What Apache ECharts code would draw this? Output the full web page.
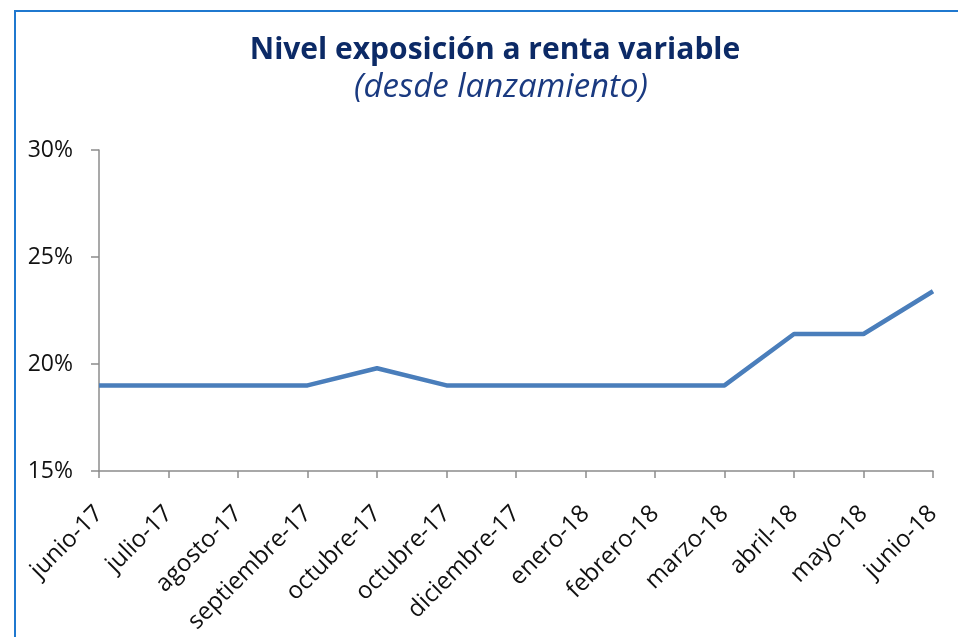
<!DOCTYPE html>
<html lang="es">
<head>
    <meta charset="UTF-8">
    <title>Nivel exposición a renta variable</title>
    <script src="https://cdn.jsdelivr.net/npm/echarts@6/dist/echarts.min.js"></script>
    <style>
        html, body { margin: 0; padding: 0; background: #fff; }
        #chart { width: 958px; height: 637px; }
    </style>
</head>
<body>
    <div id="chart"></div>
    <script>
        // meses (el original repite octubre-17)
        var meses = ['junio-17', 'julio-17', 'agosto-17', 'septiembre-17', 'octubre-17', 'octubre-17',
            'diciembre-17', 'enero-18', 'febrero-18', 'marzo-18', 'abril-18', 'mayo-18', 'junio-18']
        // nivel de exposición en %
        var exposicion = [19.0, 19.0, 19.0, 19.0, 19.8, 19.0, 19.0, 19.0, 19.0, 19.0, 21.4, 21.4, 23.4]
        var ejeY = { min: 15, max: 30, interval: 5 }

        var fuente = 'Open Sans'
        var chart = echarts.init(document.getElementById('chart'))
        var option = {
            animation: false,
            title: [{
                text: 'Nivel exposición a renta variable',
                left: 490, top: 30, textAlign: 'center',
                textStyle: { fontFamily: fuente, fontWeight: 'bold', fontSize: 30, color: '#0c2a66' }
            }, {
                text: '(desde lanzamiento)',
                left: 496, top: 66, textAlign: 'center',
                textStyle: { fontFamily: fuente, fontStyle: 'italic', fontWeight: 'normal', fontSize: 33, color: '#1a3a80' }
            }],
            graphic: [{
                type: 'polyline',
                shape: { points: [[15, 640], [15, 11], [960, 11]] },
                style: { stroke: '#1f78cf', lineWidth: 2, fill: null }
            }],
            grid: { left: 99, right: 25, top: 150, bottom: 166, containLabel: false, outerBoundsMode: 'none' },
            xAxis: {
                type: 'category',
                data: meses,
                boundaryGap: false,
                axisLine: { lineStyle: { color: '#8c8c8c', width: 1.5 } },
                axisTick: { length: 7, lineStyle: { color: '#8c8c8c', width: 1.5 } },
                axisLabel: { rotate: 45, interval: 0, margin: 39, fontFamily: fuente, fontSize: 24, color: '#111' }
            },
            yAxis: {
                type: 'value',
                min: ejeY.min, max: ejeY.max, interval: ejeY.interval,
                axisLine: { show: true, lineStyle: { color: '#8c8c8c', width: 1.5 } },
                axisTick: { show: true, length: 8, lineStyle: { color: '#8c8c8c', width: 1.5 } },
                splitLine: { show: false },
                axisLabel: { formatter: '{value}%', margin: 26, fontFamily: fuente, fontSize: 23, color: '#111' }
            },
            series: [{
                type: 'line',
                data: exposicion,
                symbol: 'none',
                lineStyle: { color: '#4a7ebb', width: 4.5 }
            }]
        }
        chart.setOption(option)
    </script>
</body>
</html>
